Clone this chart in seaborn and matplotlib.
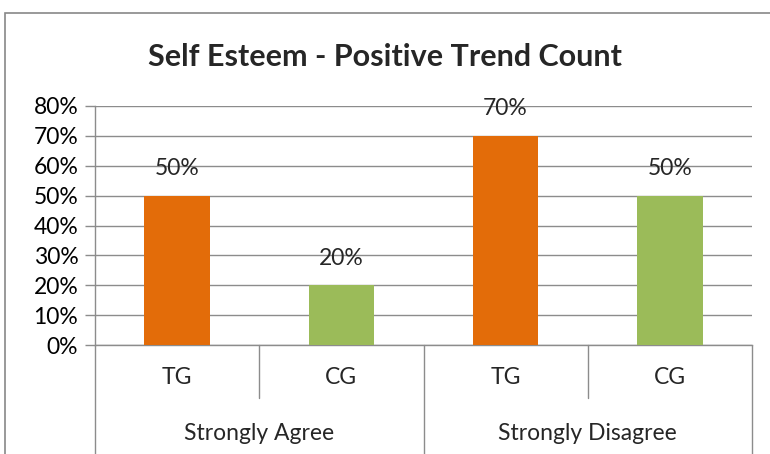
import matplotlib
matplotlib.use("Agg")
import matplotlib.pyplot as plt
import seaborn as sns
import pandas as pd
from matplotlib.patches import Rectangle
from matplotlib.transforms import blended_transform_factory

# ---- data ----
groups = ["Strongly Agree", "Strongly Agree", "Strongly Disagree", "Strongly Disagree"]
subgroups = ["TG", "CG", "TG", "CG"]
values = [0.50, 0.20, 0.70, 0.50]
y_ticks = [0.0, 0.1, 0.2, 0.3, 0.4, 0.5, 0.6, 0.7, 0.8]
title = "Self Esteem - Positive Trend Count"

colors = {"TG": "#E36C09", "CG": "#9BBB59"}
grid_c = "#8C8C8C"
fs = 16.5

sns.set_theme(style="white")
plt.rcParams["font.family"] = ["Lato", "DejaVu Sans"]

df = pd.DataFrame({
    "pos": [f"{g}|{s}" for g, s in zip(groups, subgroups)],
    "sub": subgroups,
    "value": values,
})

W, H = 770, 454
fig = plt.figure(figsize=(W / 100, H / 100), dpi=100)
left, right, top, bottom = 95, 752, 106, 345
ax = fig.add_axes([left / W, 1 - bottom / H, (right - left) / W, (bottom - top) / H])

sns.barplot(data=df, x="pos", y="value", hue="sub", palette=colors, dodge=False,
            width=0.4, saturation=1, legend=False, ax=ax, zorder=3, linewidth=0)

ax.set_ylim(0, 0.8)
ax.set_xlim(-0.5, len(values) - 0.5)
ax.set_yticks(y_ticks)
ax.set_yticklabels([f"{round(t * 100)}%" for t in y_ticks], fontsize=fs, color="black")
ax.yaxis.grid(True, color=grid_c, lw=1, zorder=0)
ax.set_axisbelow(True)
ax.tick_params(axis="y", length=7, width=1, color=grid_c, pad=5, left=True)
ax.tick_params(axis="x", length=0, labelbottom=False)
ax.set_xlabel("")
ax.set_ylabel("")
for s in ["top", "right"]:
    ax.spines[s].set_visible(False)
for s in ["left", "bottom"]:
    ax.spines[s].set_color(grid_c)
    ax.spines[s].set_linewidth(1)

# data labels
for cont in ax.containers:
    ax.bar_label(cont, fmt=lambda v: f"{v * 100:.0f}%", padding=12, fontsize=fs)

# multi-level category axis
tr = blended_transform_factory(ax.transData, ax.transAxes)
h_ax = bottom - top
y_sub = -(378 - bottom) / h_ax
y_grp = -(433 - bottom) / h_ax
y_sub_line = -(398 - bottom) / h_ax
y_grp_line = -(H + 5 - bottom) / h_ax
for i, s in enumerate(subgroups):
    ax.text(i, y_sub, s, transform=tr, ha="center", va="center", fontsize=fs)
uniq = []
for g in groups:
    if g not in uniq:
        uniq.append(g)
for g in uniq:
    idx = [i for i, gg in enumerate(groups) if gg == g]
    ax.text(sum(idx) / len(idx), y_grp, g, transform=tr, ha="center", va="center", fontsize=fs)
for i in range(len(values) + 1):
    x = i - 0.5
    is_grp = i == 0 or i == len(values) or groups[i] != groups[i - 1]
    y_end = y_grp_line if is_grp else y_sub_line
    ax.plot([x, x], [0, y_end], transform=tr, color=grid_c, lw=1, clip_on=False)

fig.text(385 / W, 1 - 57 / H, title, ha="center", va="center", fontsize=22, fontweight="bold")

fig.patches.append(Rectangle((5 / W, -0.1), 1.2, 1 - 13 / H + 0.1, transform=fig.transFigure,
                             fill=False, edgecolor="#888888", lw=1.2))

fig.savefig("out.png", dpi=100)
